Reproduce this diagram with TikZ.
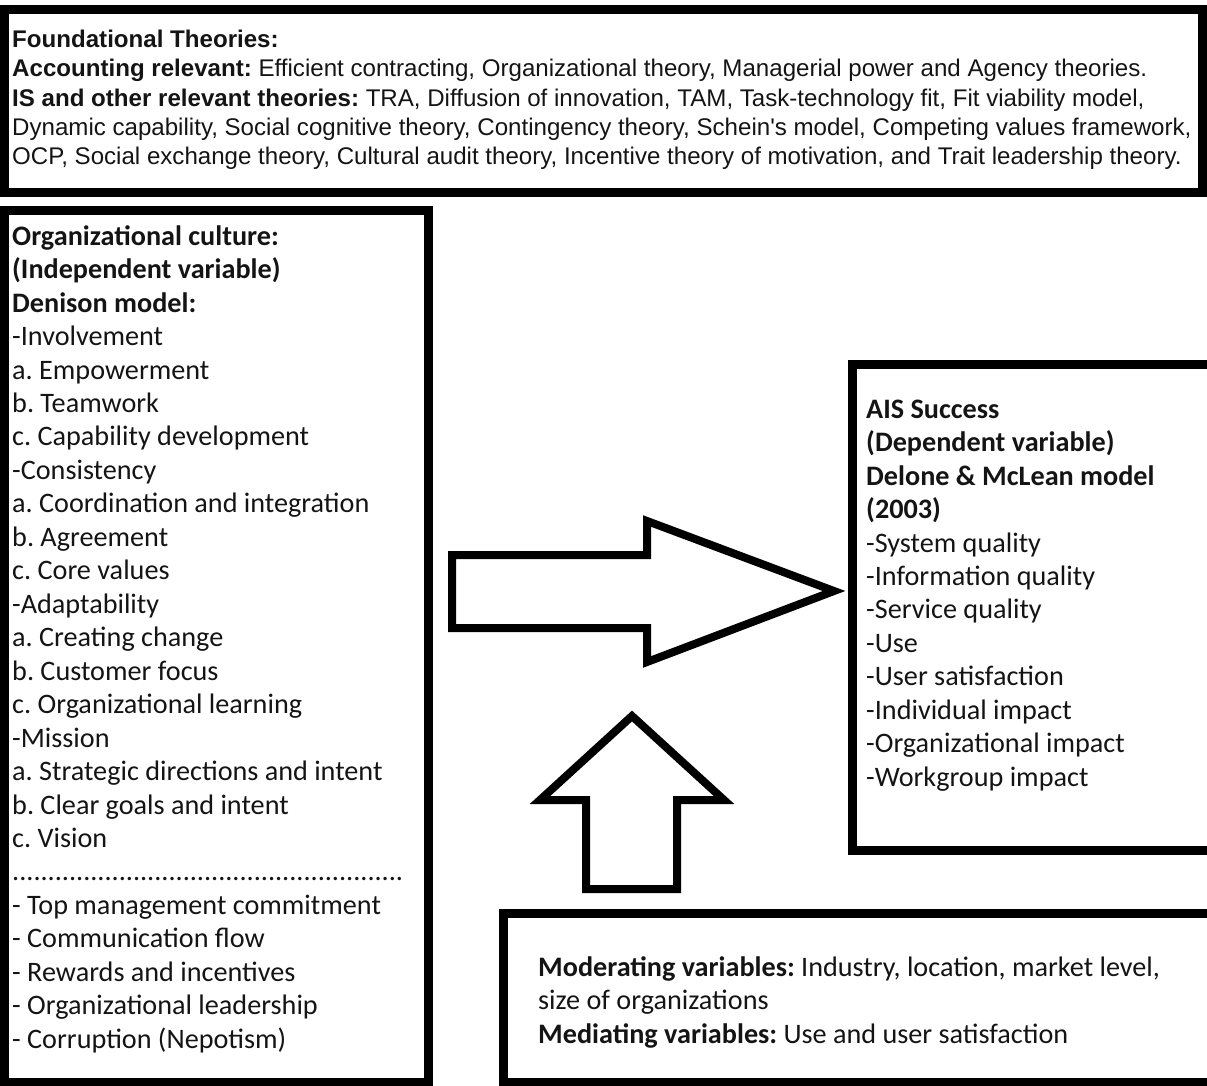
\documentclass[tikz,border=0pt]{standalone}
\usepackage{fontspec}
\newfontfamily\arialfont{Liberation Sans}
\newfontfamily\calibrifont{Carlito}
\colorlet{FrameColor}{black}
\colorlet{TextColor}{black!92}
\usetikzlibrary{calc}
\frenchspacing
\tikzset{
    frame box/.style={
        draw=FrameColor, line width=9pt, line join=miter
    },
    block arrow/.style={
        draw=FrameColor, fill=white, line width=8pt, line join=miter
    },
    arial text/.style={
        anchor=north west, inner sep=0pt, align=left, text=TextColor,
        font=\arialfont\fontsize{24.1}{29.3}\selectfont
    },
    calibri text/.style={
        anchor=north west, inner sep=0pt, align=left, text=TextColor,
        font=\calibrifont\fontsize{28.2}{33.46}\selectfont
    },
}

\begin{document}
\begin{tikzpicture}[x=1pt, y=-1pt]
\useasboundingbox (0,0) rectangle (1207,1086);
\clip (0,0) rectangle (1207,1086);

% Esquinas de los recuadros
\coordinate (T1) at (4,9.5);
\coordinate (T2) at (1202.5,192.5);
\coordinate (L1) at (4,211);
\coordinate (L2) at (428,1082);
\coordinate (R1) at (852,364);
\coordinate (R2) at (1220,850);
\coordinate (M1) at (503,913);
\coordinate (M2) at (1220,1082);

\draw[frame box] (T1) rectangle (T2);
\draw[frame box] (L1) rectangle (L2);
\draw[frame box] (R1) rectangle (R2);
\draw[frame box] (M1) rectangle (M2);

% Flecha horizontal
\coordinate (A) at (452,555);
\coordinate (B) at (647,555);
\coordinate (C) at (647,521);
\coordinate (D) at (834,591);
\coordinate (E) at (647,662);
\coordinate (F) at (647,628);
\coordinate (G) at (452,628);
\draw[block arrow] (A) -- (B) -- (C) -- (D) -- (E) -- (F) -- (G) -- cycle;

% Flecha vertical
\coordinate (P) at (586,889);
\coordinate (Q) at (586,800);
\coordinate (R) at (540,800);
\coordinate (S) at (632,716);
\coordinate (U) at (724,800);
\coordinate (V) at (677,800);
\coordinate (W) at (677,889);
\draw[block arrow] (P) -- (Q) -- (R) -- (S) -- (U) -- (V) -- (W) -- cycle;

% Textos
\node[arial text] (theories) at (12,26.9) {\strut\textbf{Foundational Theories:}\\
\textbf{Accounting relevant:} Efficient contracting, Organizational theory, Managerial power and Agency theories.\\
\textbf{IS and other relevant theories:} TRA, Diffusion of innovation, TAM, Task-technology fit, Fit viability model,\\
Dynamic capability, Social cognitive theory, Contingency theory, Schein's model, Competing values framework,\\
OCP, Social exchange theory, Cultural audit theory, Incentive theory of motivation, and Trait leadership theory.};

\node[calibri text] (culture) at (12,221.6) {\strut\textbf{Organizational culture:}\\
\textbf{(Independent variable)}\\
\textbf{Denison model:}\\
-Involvement\\
a. Empowerment\\
b. Teamwork\\
c. Capability development\\
-Consistency\\
a. Coordination and integration\\
b. Agreement\\
c. Core values\\
-Adaptability\\
a. Creating change\\
b. Customer focus\\
c. Organizational learning\\
-Mission\\
a. Strategic directions and intent\\
b. Clear goals and intent\\
c. Vision\\
.......................................................\\
- Top management commitment\\
- Communication flow\\
- Rewards and incentives\\
- Organizational leadership\\
- Corruption (Nepotism)};

\node[calibri text] (success) at (866,394.6) {\strut\textbf{AIS Success}\\
\textbf{(Dependent variable)}\\
\textbf{Delone \& McLean model}\\
\textbf{(2003)}\\
-System quality\\
-Information quality\\
-Service quality\\
-Use\\
-User satisfaction\\
-Individual impact\\
-Organizational impact\\
-Workgroup impact};

\node[calibri text] (moderators) at (538,952.6) {\strut\textbf{Moderating variables:} Industry, location, market level,\\
size of organizations\\
\textbf{Mediating variables:} Use and user satisfaction};
\end{tikzpicture}
\end{document}
